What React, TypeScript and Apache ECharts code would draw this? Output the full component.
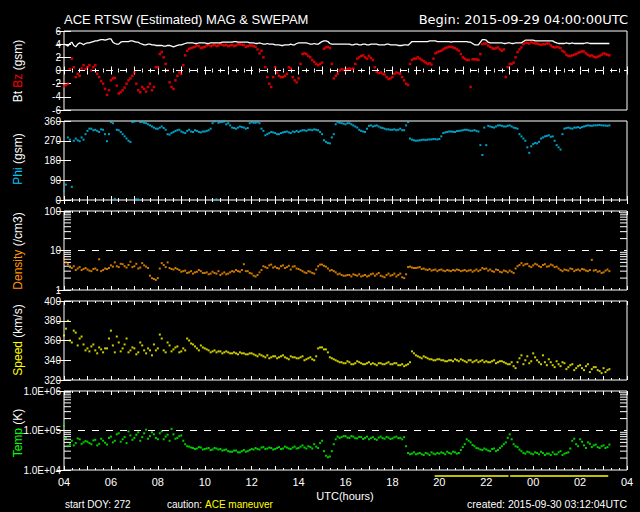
import React, { useEffect, useRef } from "react";
import * as echarts from "echarts";

// Samples every 10 minutes (A arrays) plus the samples 5 minutes later (B arrays);
// time is in hours since 2015-09-29 04:00 UTC
const STEP_HOURS = 1 / 6;
const HALF_STEP = 1 / 12;

const BT = [
  4.0, 3.7, 4.3, 3.6, 4.2, 3.9,
  4.2, 4.3, 4.5, 4.6, 4.7, 4.7,
  4.8, 4.1, 4.0, 4.4, 4.4, 4.5,
  4.4, 4.3, 4.0, 3.9, 4.0, 3.9,
  3.8, 3.8, 3.7, 3.8, 3.6, 3.8,
  3.9, 4.1, 4.2, 4.2, 4.1, 4.2,
  4.2, 4.1, 4.2, 4.2, 4.2, 4.3,
  4.3, 4.3, 4.4, 4.3, 4.3, 4.3,
  4.2, 4.1, 4.2, 4.0, 4.1, 4.0,
  3.9, 3.9, 3.8, 3.9, 4.0, 3.9,
  4.2, 4.2, 4.2, 4.0, 4.1, 4.0,
  4.4, 4.5, 4.1, 4.0, 4.0, 4.0,
  4.0, 4.0, 3.9, 4.0, 3.9, 4.0,
  3.9, 4.0, 4.0, 3.9, 3.9, 4.0,
  3.9, 3.9, 3.8, 3.9, 3.85, 4.4,
  4.4, 4.4, 4.4, 4.4, 4.5, 4.5,
  4.4, 4.4, 4.4, 4.3, 4.4, 4.4,
  4.4, 4.4, 4.3, 3.9, 3.9, 4.7,
  4.6, 4.2, 4.2, 4.2, 4.2, 4.1,
  4.2, 4.1, 4.2, 4.2, 4.6, 4.6,
  4.6, 4.5, 4.5, 4.5, 4.5, 4.5,
  4.2, 4.1, 4.1, 4.1, 4.2, 4.1,
  4.1, 4.1, 4.2, 4.1, 4.1, 4.1,
  4.1, 4.1,
];
const BT_B = [
  3.9, 4.1, 3.8, 4.0, 4.1, 4.1,
  4.2, 4.4, 4.5, 4.7, 4.6, 4.8,
  4.3, 4.0, 4.3, 4.4, 4.4, 4.5,
  4.3, 4.1, 3.9, 4.0, 3.9, 3.8,
  3.8, 3.7, 3.8, 3.7, 3.7, 3.9,
  4.0, 4.2, 4.2, 4.1, 4.2, 4.2,
  4.1, 4.2, 4.2, 4.2, 4.3, 4.3,
  4.3, 4.4, 4.3, 4.3, 4.3, 4.2,
  4.2, 4.1, 4.1, 4.0, 4.0, 4.0,
  3.9, 3.8, 3.9, 3.9, 3.9, 4.1,
  4.2, 4.2, 4.1, 4.0, 4.0, 4.2,
  4.5, 4.4, 4.0, 4.0, 4.0, 4.0,
  4.0, 3.9, 4.0, 3.9, 4.0, 3.9,
  4.0, 4.0, 3.9, 3.9, 4.0, 3.9,
  3.9, 3.8, 3.8, 3.9, 4.1, 4.4,
  4.4, 4.4, 4.4, 4.5, 4.5, 4.4,
  4.4, 4.4, 4.4, 4.4, 4.4, 4.4,
  4.4, 4.3, 4.1, 3.9, 4.3, 4.7,
  4.3, 4.2, 4.2, 4.2, 4.1, 4.2,
  4.1, 4.2, 4.2, 4.4, 4.6, 4.6,
  4.5, 4.5, 4.5, 4.5, 4.5, 4.3,
  4.1, 4.1, 4.2, 4.1, 4.1, 4.1,
  4.1, 4.2, 4.1, 4.1, 4.1, 4.1,
  4.1, 4.1,
];

const BZ = [
  -2.4, -2.0, 1.8, -1.0, -0.8, 0.8,
  0.5, 0.0, 0.8, -1.0, -2.0, -3.7,
  -1.5, -1.1, -3.5, -3.0, -2.0, -1.2,
  -0.3, -3.0, -2.5, -3.2, -2.0, -2.5,
  0.5, 2.8, 1.0, -1.8, -2.8, -0.8,
  -0.5, 2.3, 3.3, 3.5, 3.8, 3.4,
  3.6, 3.9, 3.8, 3.7, 4.0, 3.8,
  3.7, 3.9, 3.8, 4.0, 3.9, 3.7,
  3.8, 3.6, 2.6, 2.0, -1.0, -2.5,
  0.5, -0.8, -1.0, -0.5, 0.3, -1.5,
  -1.2, 2.5, 2.5, 2.0, 1.3, 0.8,
  1.2, 3.5, 3.4, -1.2, -0.5, 0.2,
  0.0, 0.3, 0.3, 1.8, 2.2, 2.0,
  2.2, 1.6, -0.2, -0.3, -0.6, -1.3,
  -1.0, -0.3, -0.5, -1.5, -2.2, 1.6,
  1.8, 1.8, 1.4, 1.0, 0.9, 2.6,
  2.9, 3.2, 3.5, 3.6, 3.4, 3.0,
  2.0, 1.6, -2.5, 1.7, 1.6, 4.0,
  4.1, 3.6, 3.3, 3.5, 3.0, -1.0,
  1.0, 1.2, 2.8, 3.5, 4.2, 4.1,
  4.2, 4.1, 3.9, 4.0, 4.1, 3.6,
  3.6, 3.4, 2.8, 2.2, 2.3, 2.5,
  2.8, 2.9, 2.4, 2.3, 2.0, 2.2,
  2.6, 2.4,
];
const BZ_B = [
  -2.2, 0.2, 0.5, -0.5, 0.3, 0.2,
  0.8, 0.5, -0.5, -1.6, -2.8, -3.0,
  -1.2, -2.3, -3.3, -2.6, -1.5, -0.8,
  -2.0, -3.3, -2.8, -2.5, -3.0, 0.5,
  2.5, 2.0, 0.0, -2.5, -1.5, -0.3,
  0.8, 3.0, 3.4, 3.6, 3.7, 3.5,
  3.8, 3.7, 3.9, 3.8, 3.9, 3.9,
  3.8, 3.7, 4.0, 3.9, 3.6, 3.8,
  3.7, 3.2, 3.0, 0.5, -2.0, -1.0,
  -0.3, -1.0, -0.8, 0.5, -1.0, -1.8,
  1.0, 2.6, 2.2, 1.6, 1.0, 1.0,
  3.3, 3.6, 1.0, -0.8, 0.0, 0.1,
  0.2, 0.2, 1.0, 2.0, 2.3, 1.8,
  1.9, 0.5, -0.4, -0.5, -1.0, -1.2,
  -0.5, -0.4, -1.0, -2.0, 1.0, 1.8,
  2.0, 1.6, 1.2, 1.1, 1.8, 2.8,
  3.0, 3.4, 3.6, 3.5, 3.2, 2.5,
  1.8, 1.6, 1.7, 1.7, 2.5, 4.1,
  3.8, 3.4, 3.4, 3.2, 3.2, 0.5,
  1.0, 2.0, 3.2, 4.0, 4.2, 4.3,
  4.1, 4.0, 4.0, 4.1, 3.8, 3.5,
  3.5, 3.0, 2.4, 2.2, 2.4, 2.7,
  2.9, 2.6, 2.2, 2.1, 2.1, 2.4,
  2.5, 2.3,
];

const PHI = [
  40, 285, 60, 280, 268, 275,
  315, 325, 320, 310, 320, 268,
  355, 5, 318, 300, 280, 265,
  358, 2, 356, 350, 340, 330,
  325, 335, 320, 298, 310, 318,
  312, 305, 320, 310, 315, 308,
  312, 318, 350, 3, 355, 358,
  350, 330, 325, 335, 330, 328,
  355, 352, 350, 315, 300, 310,
  305, 300, 308, 312, 305, 310,
  310, 318, 315, 320, 322, 318,
  300, 265, 258, 300, 355, 350,
  345, 350, 340, 330, 315, 310,
  338, 335, 340, 330, 325, 322,
  320, 318, 325, 318, 355, 275,
  270, 272, 275, 275, 276, 277,
  278, 305, 310, 312, 310, 315,
  318, 320, 315, 318, 312, 205,
  250, 335, 330, 340, 338, 335,
  340, 330, 325, 290, 270, 215,
  255, 258, 280, 290, 295, 290,
  250, 230, 325, 330, 325, 330,
  328, 335, 340, 338, 340, 342,
  340, 338,
];
const PHI_B = [
  70, 275, 270, 272, 285, 300,
  325, 318, 315, 322, 300, 300,
  350, 320, 310, 290, 270, 355,
  3, 355, 352, 345, 335, 325,
  330, 328, 300, 305, 315, 320,
  308, 315, 312, 318, 310, 312,
  315, 325, 358, 352, 356, 345,
  340, 328, 330, 332, 325, 350,
  352, 355, 325, 295, 305, 308,
  300, 305, 310, 308, 312, 315,
  315, 318, 320, 318, 320, 310,
  272, 260, 285, 345, 352, 348,
  350, 345, 335, 320, 312, 325,
  340, 338, 335, 328, 322, 320,
  322, 320, 318, 340, 280, 272,
  271, 274, 273, 276, 278, 276,
  290, 308, 312, 311, 314, 316,
  320, 318, 316, 315, 250, 330,
  338, 332, 335, 340, 335, 338,
  335, 328, 300, 280, 240, 245,
  260, 265, 285, 292, 288, 270,
  240, 300, 328, 327, 330, 332,
  332, 338, 339, 340, 341, 340,
  339, 340,
];

const DENSITY = [
  6.5, 4.5, 3.6, 3.2, 3.8, 3.4,
  3.3, 3.0, 3.5, 6.0, 3.2, 3.4,
  4.2, 5.0, 3.8, 4.5, 3.7, 5.2,
  4.0, 3.5, 4.8, 3.9, 2.3, 1.9,
  2.0, 4.8, 3.8, 3.6, 3.3, 3.4,
  2.9, 3.1, 2.8, 2.6, 2.9, 3.0,
  2.7, 2.5, 2.9, 2.6, 2.4, 2.8,
  2.6, 3.0, 3.2, 2.9, 4.5, 3.0,
  2.6, 2.2, 2.8, 4.0, 3.6, 4.4,
  3.9, 3.5, 4.2, 3.8, 3.3, 4.0,
  3.4, 3.0, 2.7, 2.9, 2.6, 4.0,
  4.4, 3.9, 3.1, 3.0, 2.5, 2.4,
  2.3, 2.4, 2.5, 2.3, 2.2, 2.4,
  2.3, 2.6, 2.5, 2.3, 2.1, 2.6,
  2.4, 2.2, 2.6, 2.0, 3.8, 3.7,
  3.6, 3.8, 3.5, 3.2, 3.1, 3.3,
  3.2, 3.1, 3.2, 3.0, 3.1, 3.2,
  3.1, 3.0, 3.2, 3.1, 3.0, 3.6,
  3.5, 3.3, 2.9, 3.2, 2.8, 3.0,
  3.1, 2.7, 4.0, 4.8, 4.5, 4.0,
  4.2, 4.4, 3.8, 4.5, 4.0, 4.2,
  3.9, 3.2, 3.3, 3.1, 3.4, 3.2,
  3.1, 3.3, 3.0, 5.8, 3.2, 3.0,
  2.8, 3.3,
];
const DENSITY_B = [
  5.0, 3.8, 4.0, 3.5, 3.2, 3.6,
  3.1, 3.4, 3.2, 3.0, 3.5, 3.6,
  3.9, 4.0, 4.6, 4.0, 4.3, 3.8,
  4.6, 3.7, 4.2, 3.6, 2.0, 1.8,
  3.5, 4.3, 5.0, 3.4, 3.6, 3.2,
  3.0, 2.7, 3.0, 2.8, 3.2, 2.7,
  2.8, 2.6, 2.7, 3.0, 2.6, 2.5,
  2.8, 2.9, 3.0, 3.2, 3.0, 2.7,
  2.3, 2.4, 3.2, 3.8, 4.2, 3.7,
  3.6, 4.0, 3.6, 4.1, 3.9, 3.5,
  3.2, 2.8, 3.0, 2.7, 3.3, 4.4,
  4.1, 3.5, 3.2, 2.8, 2.6, 2.3,
  2.4, 2.2, 2.4, 2.5, 2.3, 2.2,
  2.5, 2.3, 2.7, 2.2, 2.4, 2.3,
  2.6, 2.4, 2.1, 2.5, 3.9, 3.6,
  3.7, 3.4, 3.3, 3.4, 3.2, 3.0,
  3.3, 3.0, 3.1, 3.2, 3.3, 3.0,
  3.2, 3.1, 2.9, 3.3, 3.2, 3.4,
  3.1, 3.0, 3.3, 2.9, 3.1, 2.8,
  2.9, 3.5, 4.3, 4.2, 4.6, 3.8,
  4.6, 4.0, 4.3, 3.9, 4.4, 3.8,
  3.5, 3.0, 3.2, 3.5, 3.0, 3.3,
  3.4, 3.1, 3.2, 3.1, 2.9, 2.7,
  3.1, 3.0,
];

const SPEED = [
  365, 380, 358, 368, 362, 356,
  352, 354, 350, 353, 348, 352,
  370, 348, 358, 352, 362, 350,
  352, 348, 355, 347, 350, 356,
  352, 362, 348, 355, 351, 354,
  349, 350, 360, 356, 352, 355,
  352, 350, 349, 348, 349, 348,
  348, 347, 347, 348, 347, 346,
  347, 345, 346, 344, 345, 343,
  344, 343, 345, 342, 344, 343,
  342, 344, 341, 343, 340, 352,
  353, 351, 343, 341, 339, 338,
  337, 338, 336, 339, 337, 336,
  338, 337, 335, 337, 336, 338,
  336, 337, 335, 334, 336, 349,
  345, 343, 344, 342, 341, 340,
  341, 340, 339, 340, 341, 339,
  340, 338, 340, 339, 338, 340,
  339, 338, 340, 338, 339, 337,
  336, 334, 338, 345, 340, 337,
  347, 340, 336, 338, 341, 335,
  339, 334, 337, 333, 336, 332,
  335, 330, 336, 331, 333, 329,
  332, 330,
];
const SPEED_B = [
  372, 360, 370, 355, 364, 350,
  349, 356, 347, 351, 352, 362,
  355, 364, 349, 356, 348, 353,
  346, 358, 350, 352, 345, 350,
  366, 350, 358, 349, 353, 348,
  352, 362, 357, 354, 350, 353,
  351, 348, 350, 349, 347, 349,
  347, 348, 346, 347, 346, 347,
  346, 344, 345, 343, 342, 344,
  342, 344, 343, 341, 343, 342,
  343, 340, 342, 341, 344, 353,
  351, 348, 342, 340, 338, 337,
  339, 336, 337, 338, 336, 337,
  336, 336, 337, 336, 337, 336,
  337, 335, 336, 335, 338, 347,
  344, 342, 343, 341, 340, 341,
  340, 339, 340, 339, 340, 341,
  339, 340, 338, 340, 339, 338,
  338, 339, 337, 339, 338, 336,
  338, 332, 342, 336, 344, 339,
  343, 338, 345, 335, 338, 333,
  336, 338, 331, 335, 330, 334,
  332, 334, 328, 333, 330, 327,
  328, 331,
];

const TEMP = [
  1.3e5, 4.0e4, 5.5e4, 4.8e4, 6.0e4, 5.0e4,
  5.2e4, 4.5e4, 5.8e4, 4.6e4, 5.5e4, 4.4e4,
  7.0e4, 5.5e4, 8.5e4, 6.0e4, 4.8e4, 7.5e4,
  6.5e4, 9.0e4, 6.8e4, 1.05e5, 7.2e4, 8.0e4,
  6.0e4, 9.5e4, 7.0e4, 5.5e4, 8.0e4, 6.5e4,
  7.5e4, 4.5e4, 3.9e4, 3.6e4, 3.5e4, 3.7e4,
  3.4e4, 3.6e4, 3.3e4, 3.5e4, 3.4e4, 3.2e4,
  3.0e4, 2.9e4, 3.1e4, 2.8e4, 3.2e4, 3.0e4,
  3.4e4, 3.6e4, 3.3e4, 3.8e4, 3.5e4, 3.6e4,
  3.4e4, 3.8e4, 3.5e4, 3.7e4, 3.4e4, 3.9e4,
  3.6e4, 4.2e4, 3.5e4, 3.8e4, 4.5e4, 3.6e4,
  5.5e4, 2.3e4, 2.2e4, 4.5e4, 7.0e4, 6.8e4,
  7.2e4, 6.5e4, 7.0e4, 6.3e4, 6.8e4, 6.5e4,
  6.0e4, 6.8e4, 5.8e4, 7.0e4, 6.2e4, 6.6e4,
  6.3e4, 7.0e4, 6.5e4, 6.8e4, 2.7e4, 2.6e4,
  2.5e4, 2.7e4, 2.4e4, 2.6e4, 2.8e4, 2.5e4,
  2.6e4, 2.7e4, 2.9e4, 2.6e4, 2.8e4, 2.7e4,
  3.8e4, 6.0e4, 5.0e4, 4.0e4, 3.5e4, 3.2e4,
  3.3e4, 3.0e4, 3.5e4, 3.2e4, 4.0e4, 5.0e4,
  8.0e4, 4.5e4, 3.8e4, 3.0e4, 2.6e4, 2.8e4,
  2.5e4, 2.7e4, 2.9e4, 2.4e4, 2.6e4, 2.8e4,
  2.5e4, 3.0e4, 2.6e4, 2.8e4, 5.5e4, 4.5e4,
  6.0e4, 4.2e4, 5.0e4, 3.8e4, 4.4e4, 3.6e4,
  4.2e4, 3.8e4,
];
const TEMP_B = [
  6.5e4, 4.5e4, 4.2e4, 6.3e4, 4.6e4, 5.4e4,
  4.8e4, 5.6e4, 4.2e4, 6.2e4, 4.9e4, 6.5e4,
  5.0e4, 8.0e4, 5.2e4, 6.8e4, 9.5e4, 5.8e4,
  7.8e4, 5.5e4, 8.5e4, 6.2e4, 9.0e4, 6.5e4,
  8.5e4, 6.0e4, 7.8e4, 1.1e5, 6.2e4, 7.2e4,
  5.5e4, 4.0e4, 3.7e4, 3.4e4, 3.8e4, 3.3e4,
  3.5e4, 3.2e4, 3.6e4, 3.3e4, 3.1e4, 3.3e4,
  2.9e4, 3.1e4, 2.8e4, 3.0e4, 2.9e4, 3.2e4,
  3.3e4, 3.4e4, 3.7e4, 3.4e4, 3.7e4, 3.3e4,
  3.6e4, 3.4e4, 3.9e4, 3.5e4, 3.7e4, 3.5e4,
  3.9e4, 3.7e4, 4.0e4, 3.5e4, 3.9e4, 4.8e4,
  3.0e4, 2.1e4, 3.0e4, 6.0e4, 6.5e4, 7.2e4,
  6.6e4, 7.2e4, 6.4e4, 6.9e4, 6.1e4, 7.0e4,
  6.4e4, 6.1e4, 6.6e4, 6.4e4, 6.9e4, 6.1e4,
  6.7e4, 6.4e4, 6.0e4, 4.0e4, 2.5e4, 2.8e4,
  2.6e4, 2.5e4, 2.7e4, 2.4e4, 2.6e4, 2.7e4,
  2.8e4, 2.5e4, 2.7e4, 2.9e4, 2.6e4, 3.2e4,
  4.5e4, 5.5e4, 4.3e4, 3.6e4, 3.3e4, 3.5e4,
  3.1e4, 3.4e4, 3.0e4, 3.6e4, 4.5e4, 6.5e4,
  6.0e4, 4.0e4, 3.3e4, 2.7e4, 2.9e4, 2.6e4,
  2.8e4, 2.5e4, 2.7e4, 2.6e4, 2.4e4, 2.5e4,
  2.8e4, 2.4e4, 2.7e4, 3.5e4, 6.2e4, 4.0e4,
  5.2e4, 3.6e4, 4.6e4, 4.2e4, 3.8e4, 4.0e4,
  3.6e4, 4.4e4,
];

// Maneuver periods (hours since start)
const MANEUVERS = [
  [15.8, 18.95],
  [19.02, 23.2],
];

const DENSITY_MINOR = [2, 3, 4, 5, 6, 7, 8, 9, 20, 30, 40, 50, 60, 70, 80, 90];
const TEMP_MINOR = [2e4, 3e4, 4e4, 5e4, 6e4, 7e4, 8e4, 9e4, 2e5, 3e5, 4e5, 5e5, 6e5, 7e5, 8e5, 9e5];

const START_HOUR = 4;

const WHITE = "#ffffff";
const RED = "#ff0000";
const CYAN = "#00c8f5";
const ORANGE = "#ff9600";
const YELLOW = "#ffff00";
const GREEN = "#00ff00";

const LBL_FONT = "Liberation Sans";

function pairs(a: number[], b: number[]) {
  const out: number[][] = [];
  a.forEach((v, i) => {
    out.push([i * STEP_HOURS, v]);
    if (i < b.length) out.push([i * STEP_HOURS + HALF_STEP, b[i]]);
  });
  return out;
}

export default function App() {
  const ref = useRef<HTMLDivElement>(null);
  useEffect(() => {
    document.body.style.margin = "0";
    document.body.style.background = "#000";
    const chart = echarts.init(ref.current!, undefined, { renderer: "svg" });

    const grids: any[] = [];
    const xAxes: any[] = [];
    const yAxes: any[] = [];
    for (let i = 0; i < 5; i++) {
      grids.push({
        left: 64,
        right: 13,
        top: 31 + 90 * i,
        height: 79,
        show: true,
        borderColor: WHITE,
        borderWidth: 1,
        backgroundColor: "transparent",
      });
      const xBase = {
        type: "value",
        gridIndex: i,
        min: 0,
        max: 24,
        interval: 1,
        axisLine: { show: false },
        axisTick: { show: true, inside: true, length: 4, lineStyle: { color: WHITE } },
        minorTick: { show: true, splitNumber: 3, length: 2, lineStyle: { color: WHITE } },
        splitLine: { show: false },
      };
      xAxes.push({
        ...xBase,
        position: "bottom",
        axisLabel:
          i === 4
            ? {
                show: true,
                color: WHITE,
                fontFamily: LBL_FONT,
                fontSize: 11,
                margin: 6,
                formatter: (v: number) =>
                  v % 2 === 0 ? String((START_HOUR + v) % 24).padStart(2, "0") : "",
              }
            : { show: false },
      });
      xAxes.push({ ...xBase, position: "top", axisLabel: { show: false } });
    }

    const yDefs: any[] = [
      { type: "value", min: -6, max: 6, interval: 2 },
      { type: "value", min: 0, max: 360, interval: 90 },
      { type: "log", logBase: 10, min: 1, max: 100 },
      { type: "value", min: 320, max: 400, interval: 20 },
      {
        type: "log",
        logBase: 10,
        min: 1e4,
        max: 1e6,
        formatter: (v: number) => "1.0E+0" + Math.round(Math.log10(v)),
      },
    ];
    yDefs.forEach((d, i) => {
      const { formatter, ...rest } = d;
      const base = {
        ...rest,
        gridIndex: i,
        axisLine: { show: false },
        axisTick: { show: true, inside: true, length: 7, lineStyle: { color: WHITE } },
        splitLine: { show: false },
      };
      yAxes.push({
        ...base,
        position: "left",
        axisLabel: {
          show: true,
          color: WHITE,
          fontFamily: LBL_FONT,
          fontSize: 10,
          margin: 3,
          ...(formatter ? { formatter } : {}),
        },
      });
      yAxes.push({ ...base, position: "right", axisLabel: { show: false } });
    });

    const dashed = (value: number) => ({
      silent: true,
      symbol: "none",
      label: { show: false },
      lineStyle: { color: WHITE, type: [7, 7], width: 1 },
      data: [{ yAxis: value }],
    });

    const scatter = (name: string, a: number[], b: number[], color: string, panel: number, extra: any = {}) => ({
      name,
      type: "scatter",
      xAxisIndex: panel * 2,
      yAxisIndex: panel * 2,
      data: pairs(a, b),
      symbol: "rect",
      symbolSize: 2,
      itemStyle: { color },
      ...extra,
    });

    const minorTicks = (vals: number[], panel: number) => ({
      type: "custom",
      xAxisIndex: panel * 2,
      yAxisIndex: panel * 2,
      silent: true,
      data: vals.map((v) => [0, v]),
      encode: { x: 0, y: 1 },
      renderItem: (_p: any, api: any) => {
        const v = api.value(1);
        const a = api.coord([0, v]);
        const b = api.coord([24, v]);
        const st = { stroke: WHITE, lineWidth: 1 };
        return {
          type: "group",
          children: [
            { type: "line", shape: { x1: a[0], y1: a[1], x2: a[0] + 7, y2: a[1] }, style: st },
            { type: "line", shape: { x1: b[0] - 7, y1: b[1], x2: b[0], y2: b[1] }, style: st },
          ],
        };
      },
    });

    const series: any[] = [
      {
        name: "Bt",
        type: "line",
        xAxisIndex: 0,
        yAxisIndex: 0,
        data: pairs(BT, BT_B),
        showSymbol: false,
        lineStyle: { color: WHITE, width: 1.3 },
        markLine: dashed(0),
        z: 3,
      },
      scatter("Bz", BZ, BZ_B, RED, 0, { symbolSize: 2.5 }),
      scatter("Phi", PHI, PHI_B, CYAN, 1),
      scatter("Density", DENSITY, DENSITY_B, ORANGE, 2, { markLine: dashed(10) }),
      minorTicks(DENSITY_MINOR, 2),
      scatter("Speed", SPEED, SPEED_B, YELLOW, 3),
      scatter("Temp", TEMP, TEMP_B, GREEN, 4, { markLine: dashed(1e5) }),
      minorTicks(TEMP_MINOR, 4),
      {
        type: "custom",
        xAxisIndex: 8,
        yAxisIndex: 8,
        clip: false,
        silent: true,
        data: MANEUVERS.map((m) => [m[0], m[1], 1e4]),
        encode: { x: [0, 1], y: 2 },
        renderItem: (_p: any, api: any) => {
          const a = api.coord([api.value(0), api.value(2)]);
          const b = api.coord([api.value(1), api.value(2)]);
          return {
            type: "line",
            shape: { x1: a[0], y1: a[1] + 6, x2: b[0], y2: b[1] + 6 },
            style: { stroke: YELLOW, lineWidth: 1.5 },
          };
        },
      },
    ];

    const sideLabel = (y: number, parts: [string, string][]) => ({
      type: "text",
      x: 18,
      y,
      rotation: Math.PI / 2,
      style: {
        text: parts.map(([k, t]) => `{${k}|${t}}`).join(""),
        textAlign: "center",
        textVerticalAlign: "middle",
        font: `12px "${LBL_FONT}"`,
        rich: {
          w: { fill: WHITE, font: `12px "${LBL_FONT}"` },
          r: { fill: RED, font: `12px "${LBL_FONT}"` },
          c: { fill: CYAN, font: `12px "${LBL_FONT}"` },
          o: { fill: ORANGE, font: `12px "${LBL_FONT}"` },
          yl: { fill: YELLOW, font: `12px "${LBL_FONT}"` },
          g: { fill: GREEN, font: `12px "${LBL_FONT}"` },
        },
      },
    });

    const text = (x: number, y: number, t: string, opts: any = {}) => ({
      type: "text",
      x,
      y,
      style: {
        text: t,
        fill: opts.fill || WHITE,
        font: opts.font || `10px "${LBL_FONT}"`,
        textAlign: opts.align || "left",
        textVerticalAlign: "middle",
      },
    });

    chart.setOption({
      animation: false,
      backgroundColor: "#000",
      grid: grids,
      xAxis: xAxes,
      yAxis: yAxes,
      series,
      graphic: [
        text(64, 19, "ACE RTSW (Estimated) MAG & SWEPAM", { font: `13px "${LBL_FONT}"` }),
        text(628, 19, "Begin: 2015-09-29 04:00:00UTC", { font: '13px "DejaVu Sans"', align: "right" }),
        sideLabel(71, [["w", "Bt "], ["r", "Bz"], ["w", " (gsm)"]]),
        sideLabel(159, [["c", "Phi"], ["w", " (gsm)"]]),
        sideLabel(251, [["o", "Density"], ["w", " (/cm3)"]]),
        sideLabel(340, [["yl", "Speed"], ["w", " (km/s)"]]),
        sideLabel(433, [["g", "Temp"], ["w", " (K)"]]),
        text(345, 496, "UTC(hours)", { font: `11px "${LBL_FONT}"`, align: "center" }),
        text(65, 504, "start DOY: 272"),
        text(167, 504, "caution:"),
        text(205, 504, "ACE maneuver", { fill: YELLOW }),
        text(627, 504, "created: 2015-09-30 03:12:04UTC", { font: `10.5px "${LBL_FONT}"`, align: "right" }),
      ],
    });
    return () => chart.dispose();
  }, []);
  return (
    <div
      ref={ref}
      style={{ position: "absolute", left: 0, top: 0, width: 640, height: 512, background: "#000" }}
    />
  );
}
